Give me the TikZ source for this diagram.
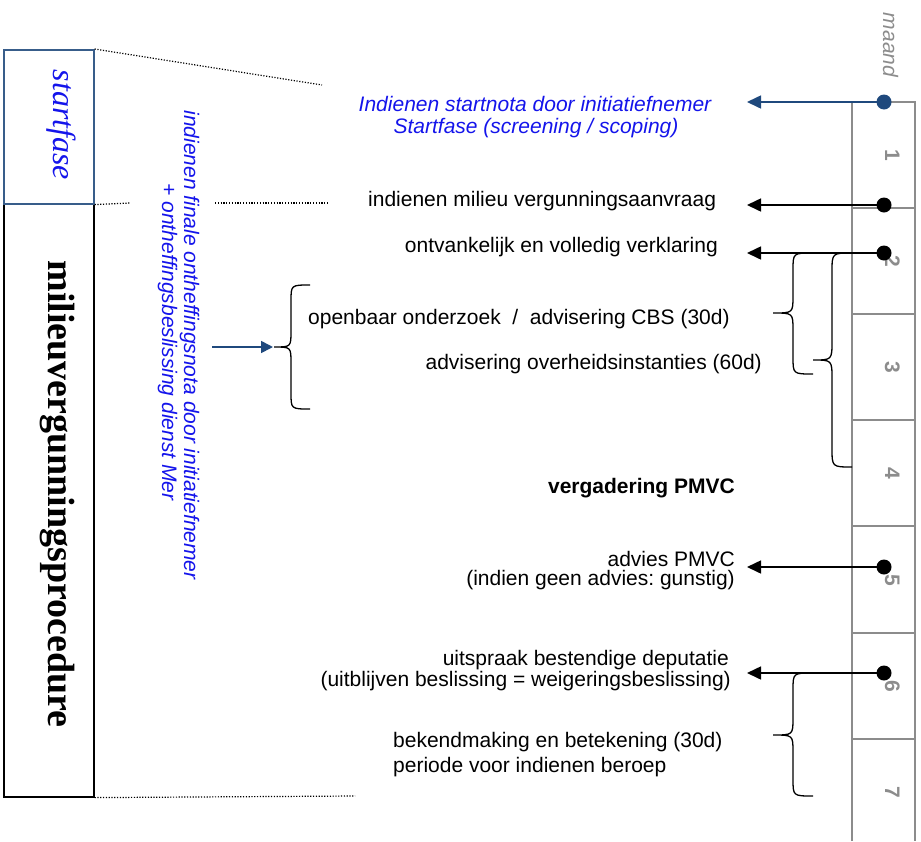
\documentclass[tikz,border=0pt]{standalone}
\usepackage{fontspec}
\setmainfont{Liberation Sans}
\newfontfamily\serifx{Liberation Serif}
\usetikzlibrary{arrows.meta}
\frenchspacing
\definecolor{lineblue}{RGB}{31,73,125}
\definecolor{textblue}{RGB}{20,20,235}
\definecolor{rulergray}{RGB}{140,140,140}
\definecolor{boxblue}{RGB}{56,93,138}
\newcommand\lf{\fontsize{21}{22}\selectfont}
\tikzset{
  lbl/.style={inner sep=0pt, font=\lf},
  bluelbl/.style={lbl, font=\lf\itshape, text=textblue},
  vlbl/.style={inner sep=0pt, rotate=-90, anchor=base},
  monthnum/.style={vlbl, font=\fontsize{21}{21}\selectfont\bfseries, text=rulergray},
  ruler/.style={draw=rulergray, line width=1.6pt},
  dot/.style={circle, fill=black, inner sep=0pt, minimum size=15pt},
  bluedot/.style={dot, fill=lineblue},
  arr/.style={draw=black, line width=1.6pt, -{Triangle[length=14pt,width=13pt]}},
  barr/.style={arr, draw=lineblue, -{Triangle[length=14pt,width=13pt]}},
  barrsmall/.style={draw=lineblue, line width=1.6pt, -{Triangle[length=12pt,width=12pt]}},
  brc/.style={draw=black, line width=1.3pt},
  dotline/.style={draw=black, line width=1.2pt, dash pattern=on 1.2pt off 1.6pt},
  phasebox/.style={inner sep=0pt, anchor=north west, minimum width=90pt, line width=1.6pt}
}
\begin{document}
\begin{tikzpicture}[x=1pt, y=-1pt]
\useasboundingbox (0,0) rectangle (921,841);

% left phase boxes
\node[phasebox, draw=black, minimum height=593pt] (mp) at (3,203) {};
\node[phasebox, draw=boxblue, minimum height=154pt] (sf) at (3,49) {};
\node[vlbl, font=\serifx\itshape\fontsize{32}{32}\selectfont, text=textblue] (sft) at (53,125) {startfase};
\node[vlbl, font=\serifx\bfseries\fontsize{38}{38}\selectfont] (mpt) at (48,494) {milieuvergunningsprocedure};

% dotted guide lines
\coordinate (dA) at (322,85);
\coordinate (dB) at (130,203);
\coordinate (dC1) at (215,203);
\coordinate (dC2) at (329,203);
\coordinate (dD) at (355,796);
\draw[dotline] (sf.north east) -- (dA);
\draw[dotline] (sf.south east) -- (dB);
\draw[dotline] (dC1) -- (dC2);
\draw[dotline] (mp.south east) -- (dD);

% vertical blue text
\node[vlbl, font=\lf\itshape, text=textblue] (v1) at (184,345) {indienen finale ontheffingsnota door initiatiefnemer};
\node[vlbl, font=\lf\itshape, text=textblue] (v2) at (162,342) {+ ontheffingsbeslissing dienst Mer};

% arrow into big brace
\coordinate (ba1) at (212,347);
\coordinate (ba2) at (273,347);
\draw[barrsmall] (ba1) -- (ba2);

% big left brace
\draw[brc] (310,285) .. controls (291,285) .. (291,301) -- (291,331)
  .. controls (291,347) .. (274,347) .. controls (291,347) .. (291,363)
  -- (291,393) .. controls (291,409) .. (310,409);

% ruler
\draw[ruler] (852,841) -- (852,102) -- (915,102) -- (915,841);
\foreach \yy in {208,314,420,526,633,739}
  \draw[ruler] (852,\yy) -- (915,\yy);
\node[vlbl, font=\lf\itshape, text=rulergray] (maand) at (883,45) {maand};
\node[monthnum] (m1) at (885,155) {1};
\node[monthnum] (m2) at (885,261) {2};
\node[monthnum] (m3) at (885,367) {3};
\node[monthnum] (m4) at (885,473) {4};
\node[monthnum] (m5) at (885,580) {5};
\node[monthnum] (m6) at (885,686) {6};
\node[monthnum] (m7) at (885,792) {7};

% braces on the right
\draw[brc] (813,253) .. controls (793,253) .. (793,270) -- (793,296)
  .. controls (793,313) .. (773,313) .. controls (793,313) .. (793,330)
  -- (793,357) .. controls (793,374) .. (813,374);
\draw[brc] (852,253) .. controls (832,253) .. (832,272) -- (832,341)
  .. controls (832,360) .. (813,360) .. controls (832,360) .. (832,379)
  -- (832,448) .. controls (832,467) .. (852,467);
\draw[brc] (813,673) .. controls (793,673) .. (793,690) -- (793,718)
  .. controls (793,735) .. (773,735) .. controls (793,735) .. (793,752)
  -- (793,779) .. controls (793,796) .. (813,796);

% dots and arrows
\node[bluedot] (d1) at (884,102) {};
\node[dot] (d2) at (884,205) {};
\node[dot] (d3) at (884,253) {};
\node[dot] (d4) at (884,567) {};
\node[dot] (d5) at (884,673) {};
\coordinate (e1) at (747,102);
\coordinate (e2) at (747,205);
\coordinate (e3) at (747,253);
\coordinate (e4) at (747,567);
\coordinate (e5) at (747,673);
\draw[barr] (d1.center) -- (e1);
\draw[arr] (d2.center) -- (e2);
\draw[arr] (d3.center) -- (e3);
\draw[arr] (d4.center) -- (e4);
\draw[arr] (d5.center) -- (e5);

% labels
\node[bluelbl, anchor=base] (t1a) at (535,111) {Indienen startnota door initiatiefnemer};
\node[bluelbl, anchor=base] (t1b) at (536,133) {Startfase (screening / scoping)};
\node[lbl, anchor=base west] (t2) at (368,206) {indienen milieu vergunningsaanvraag};
\node[lbl, anchor=base east] (t3) at (718,252) {ontvankelijk en volledig verklaring};
\node[lbl, anchor=base west] (t4) at (308,324) {openbaar onderzoek\ \ /\ \ advisering CBS (30d)};
\node[lbl, anchor=base east] (t5) at (762,369) {advisering overheidsinstanties (60d)};
\node[lbl, font=\lf\bfseries, anchor=base east] (t6) at (735,493) {vergadering PMVC};
\node[lbl, anchor=base east] (t7a) at (735,566) {advies PMVC};
\node[lbl, anchor=base east] (t7b) at (735,585) {(indien geen advies: gunstig)};
\node[lbl, anchor=base east] (t8a) at (729,665) {uitspraak bestendige deputatie};
\node[lbl, anchor=base east] (t8b) at (731,686) {(uitblijven beslissing = weigeringsbeslissing)};
\node[lbl, anchor=base west] (t9a) at (393,747) {bekendmaking en betekening (30d)};
\node[lbl, anchor=base west] (t9b) at (393,772) {periode voor indienen beroep};
\end{tikzpicture}
\end{document}
